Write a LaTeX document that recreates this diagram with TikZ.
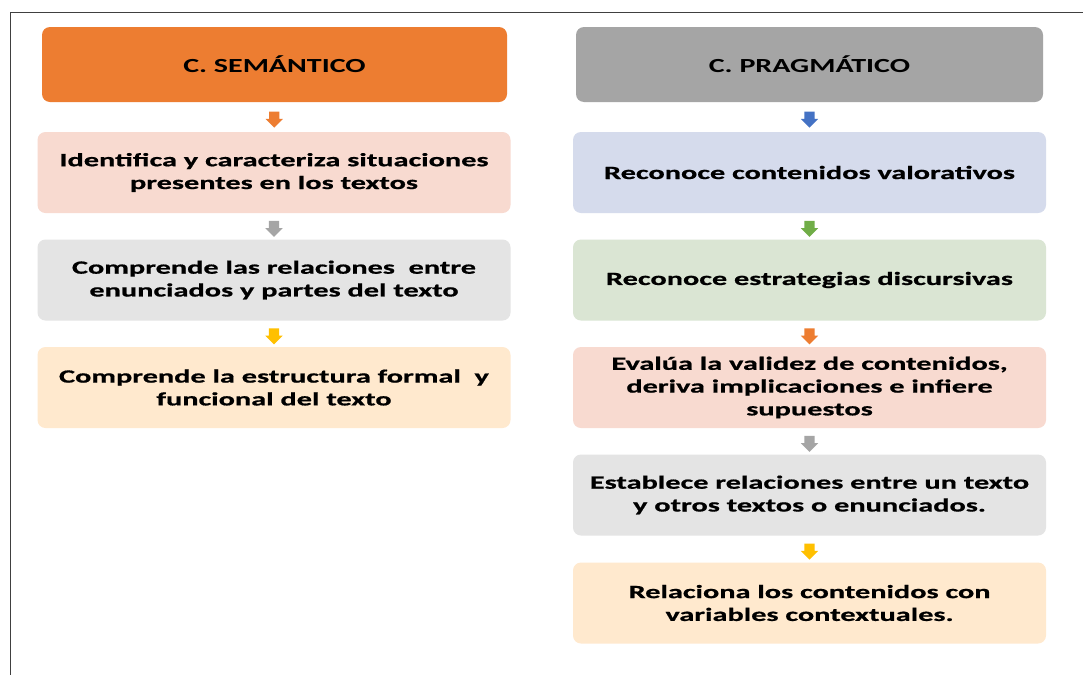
\documentclass[tikz,border=0pt]{standalone}
\usepackage{fontspec}
\setmainfont{Carlito}[FakeStretch=1.5]
\newfontfamily\bodyfont{Carlito}[FakeStretch=1.62, BoldFeatures={FakeBold=0.8}]
\usetikzlibrary{shapes.arrows}
\definecolor{hdrorange}{HTML}{ED7D31}
\definecolor{hdrgray}{HTML}{A5A5A5}
\definecolor{bxpink}{HTML}{F8DAD0}
\definecolor{bxgray}{HTML}{E4E4E4}
\definecolor{bxyellow}{HTML}{FFE9CE}
\definecolor{bxblue}{HTML}{D5DBEC}
\definecolor{bxgreen}{HTML}{DAE5D3}
\definecolor{arorange}{HTML}{ED7D31}
\definecolor{argray}{HTML}{A5A5A5}
\definecolor{aryellow}{HTML}{FFC000}
\definecolor{arblue}{HTML}{4472C4}
\definecolor{argreen}{HTML}{70AD47}
\definecolor{frameline}{HTML}{404040}
\tikzset{
  hdrbox/.style={rounded corners=8pt, minimum height=75pt, inner sep=0pt,
    font=\fontsize{20}{24}\selectfont\bfseries, text=black},
  itembox/.style={rounded corners=8pt, minimum width=473pt, minimum height=81pt,
    inner sep=0pt, align=center, font=\bodyfont\fontsize{18.7}{22.8}\selectfont\bfseries, text=black},
  blockarr/.style={single arrow, shape border rotate=270, minimum height=16pt,
    inner sep=5pt, single arrow head extend=3.5pt, single arrow head indent=0pt,
    draw=none, fill=#1}
}
\begin{document}
\begin{tikzpicture}[x=1pt,y=-1pt]
\useasboundingbox (0,0) rectangle (1083,675);
\fill[white] (0,0) rectangle (1083,675);
\draw[frameline, line width=1pt] (1083,12) -- (10,12) -- (10,675);

% left column
\node[hdrbox, fill=hdrorange, minimum width=465pt] (sem) at (274.5,64.5) {C. SEMÁNTICO};
\node[itembox, fill=bxpink] (s1) at (274,172.5) {Identifica y caracteriza situaciones\\presentes en los textos};
\node[itembox, fill=bxgray] (s2) at (274,280) {Comprende las relaciones\ \ entre\\enunciados y partes del texto};
\node[itembox, fill=bxyellow] (s3) at (274,387.5) {Comprende la estructura formal\ \ y\\funcional del texto};

% right column
\node[hdrbox, fill=hdrgray, minimum width=467pt] (pra) at (809.5,64.5) {C. PRAGMÁTICO};
\node[itembox, fill=bxblue] (p1) at (809.5,172.5) {Reconoce contenidos valorativos};
\node[itembox, fill=bxgreen] (p2) at (809.5,280) {Reconoce estrategias discursivas};
\node[itembox, fill=bxpink] (p3) at (809.5,387.5) {Evalúa la validez de contenidos,\\deriva implicaciones e infiere\\supuestos};
\node[itembox, fill=bxgray] (p4) at (809.5,495) {Establece relaciones entre un texto\\y otros textos o enunciados.};
\node[itembox, fill=bxyellow] (p5) at (809.5,603) {Relaciona los contenidos con\\variables contextuales.};

% connectors
\path (sem.south) -- (s1.north) node[midway, blockarr=arorange] {};
\path (s1.south) -- (s2.north) node[midway, blockarr=argray] {};
\path (s2.south) -- (s3.north) node[midway, blockarr=aryellow] {};
\path (pra.south) -- (p1.north) node[midway, blockarr=arblue] {};
\path (p1.south) -- (p2.north) node[midway, blockarr=argreen] {};
\path (p2.south) -- (p3.north) node[midway, blockarr=arorange] {};
\path (p3.south) -- (p4.north) node[midway, blockarr=argray] {};
\path (p4.south) -- (p5.north) node[midway, blockarr=aryellow] {};
\end{tikzpicture}
\end{document}
